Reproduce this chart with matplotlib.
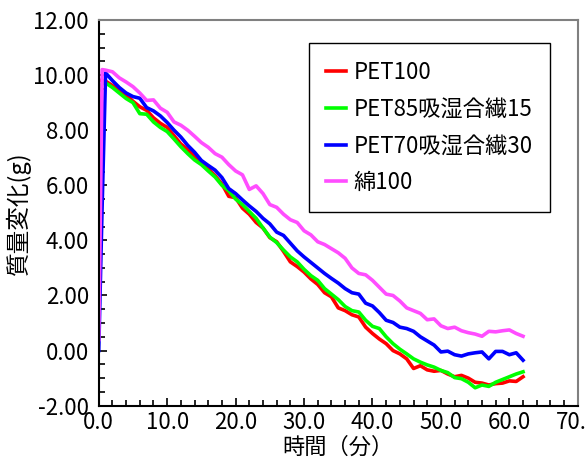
import matplotlib
matplotlib.use('Agg')
import matplotlib.pyplot as plt
from matplotlib.ticker import MultipleLocator, FormatStrFormatter

plt.rcParams['font.family'] = ['Noto Sans CJK JP', 'DejaVu Sans']

minutes = [0, 0.5] + list(range(1, 63))

pet100 = [9.82, 9.80, 9.78, 9.62, 9.45, 9.28, 9.05, 8.85, 8.72, 8.45, 8.25,
          8.10, 7.80, 7.50, 7.30, 7.05, 6.80, 6.60, 6.35, 6.05, 5.60,
          5.55, 5.17, 4.95, 4.65, 4.45, 4.10, 3.95, 3.60, 3.22, 3.05,
          2.85, 2.60, 2.40, 2.10, 1.95, 1.55, 1.45, 1.30, 1.22, 0.85,
          0.62, 0.42, 0.25, 0.00, -0.12, -0.30, -0.65, -0.55, -0.70, -0.75,
          -0.72, -0.85, -0.95, -0.90, -1.00, -1.15, -1.18, -1.25, -1.20, -1.18,
          -1.10, -1.12, -0.95]

pet85 = [9.40, 9.70, 9.72, 9.55, 9.35, 9.15, 9.00, 8.60, 8.58, 8.30, 8.10,
         7.95, 7.68, 7.40, 7.15, 6.92, 6.75, 6.52, 6.30, 6.00, 5.80,
         5.50, 5.30, 5.05, 4.80, 4.45, 4.12, 3.92, 3.65, 3.40, 3.22,
         2.95, 2.72, 2.55, 2.25, 2.05, 1.85, 1.60, 1.45, 1.40, 1.10,
         0.88, 0.80, 0.50, 0.25, 0.05, -0.12, -0.30, -0.42, -0.52, -0.60,
         -0.72, -0.80, -0.98, -1.02, -1.15, -1.35, -1.25, -1.30, -1.15, -1.05,
         -0.95, -0.85, -0.77]

pet70 = [0.00, 5.30, 10.08, 9.80, 9.55, 9.35, 9.22, 9.16, 8.82, 8.70, 8.52,
         8.28, 8.00, 7.75, 7.45, 7.20, 6.90, 6.72, 6.55, 6.28, 5.88,
         5.70, 5.47, 5.25, 5.05, 4.80, 4.60, 4.30, 4.18, 3.90, 3.62,
         3.40, 3.20, 3.00, 2.80, 2.62, 2.45, 2.25, 2.10, 2.05, 1.72,
         1.62, 1.38, 1.10, 1.02, 0.85, 0.80, 0.70, 0.50, 0.35, 0.20,
         -0.05, -0.02, -0.15, -0.20, -0.12, -0.08, -0.05, -0.30, -0.03, -0.03,
         -0.15, -0.08, -0.35]

cotton100 = [0.40, 10.20, 10.18, 10.12, 9.90, 9.75, 9.58, 9.35, 9.08, 9.10, 8.80,
             8.65, 8.30, 8.18, 8.00, 7.78, 7.55, 7.38, 7.15, 7.02, 6.75,
             6.52, 6.38, 5.85, 5.98, 5.70, 5.30, 5.20, 4.95, 4.75, 4.65,
             4.35, 4.20, 3.95, 3.85, 3.70, 3.55, 3.35, 3.00, 2.80, 2.75,
             2.55, 2.30, 2.05, 2.00, 1.80, 1.55, 1.45, 1.35, 1.12, 1.15,
             0.90, 0.80, 0.85, 0.72, 0.65, 0.60, 0.52, 0.70, 0.68, 0.72,
             0.75, 0.62, 0.52]

fig = plt.figure(figsize=(5.86, 4.61), dpi=100)
ax = fig.add_axes([0.1685, 0.12, 0.8175, 0.8366])

ax.plot(minutes, pet100, color='#ff0000', lw=2.6, label='PET100')
ax.plot(minutes, pet85, color='#00ff00', lw=2.6, label='PET85吸湿合繊15')
ax.plot(minutes, pet70, color='#0000ff', lw=2.6, label='PET70吸湿合繊30')
ax.plot(minutes, cotton100, color='#ff4dff', lw=2.6, label='綿100')

ax.set_xlim(0, 70)
ax.set_ylim(-2, 12)
ax.xaxis.set_major_locator(MultipleLocator(10))
ax.xaxis.set_minor_locator(MultipleLocator(2))
ax.yaxis.set_major_locator(MultipleLocator(2))
ax.yaxis.set_minor_locator(MultipleLocator(0.5))
ax.xaxis.set_major_formatter(FormatStrFormatter('%.1f'))
ax.yaxis.set_major_formatter(FormatStrFormatter('%.2f'))

ax.tick_params(which='both', direction='in', labelsize=16, width=1.2)
ax.tick_params(which='major', length=6)
ax.tick_params(which='minor', length=4)
ax.tick_params(axis='y', pad=7)
ax.tick_params(axis='x', pad=4)

for side in ['left', 'bottom']:
    ax.spines[side].set_color('black')
    ax.spines[side].set_linewidth(1.5)
for side in ['top', 'right']:
    ax.spines[side].set_color('#808080')
    ax.spines[side].set_linewidth(1.5)

ax.set_xlabel('時間（分）', fontsize=16, labelpad=1)
ax.set_ylabel('質量変化(g)', fontsize=17, labelpad=2)

leg = ax.legend(loc='upper left', bbox_to_anchor=(0.438, 0.94), fontsize=16,
                frameon=True, fancybox=False, framealpha=1, edgecolor='black',
                handlelength=0.9, handletextpad=0.32, labelspacing=0.62,
                borderpad=0.8, borderaxespad=0)
leg.get_frame().set_linewidth(1.0)

fig.savefig('out.png', dpi=100)
